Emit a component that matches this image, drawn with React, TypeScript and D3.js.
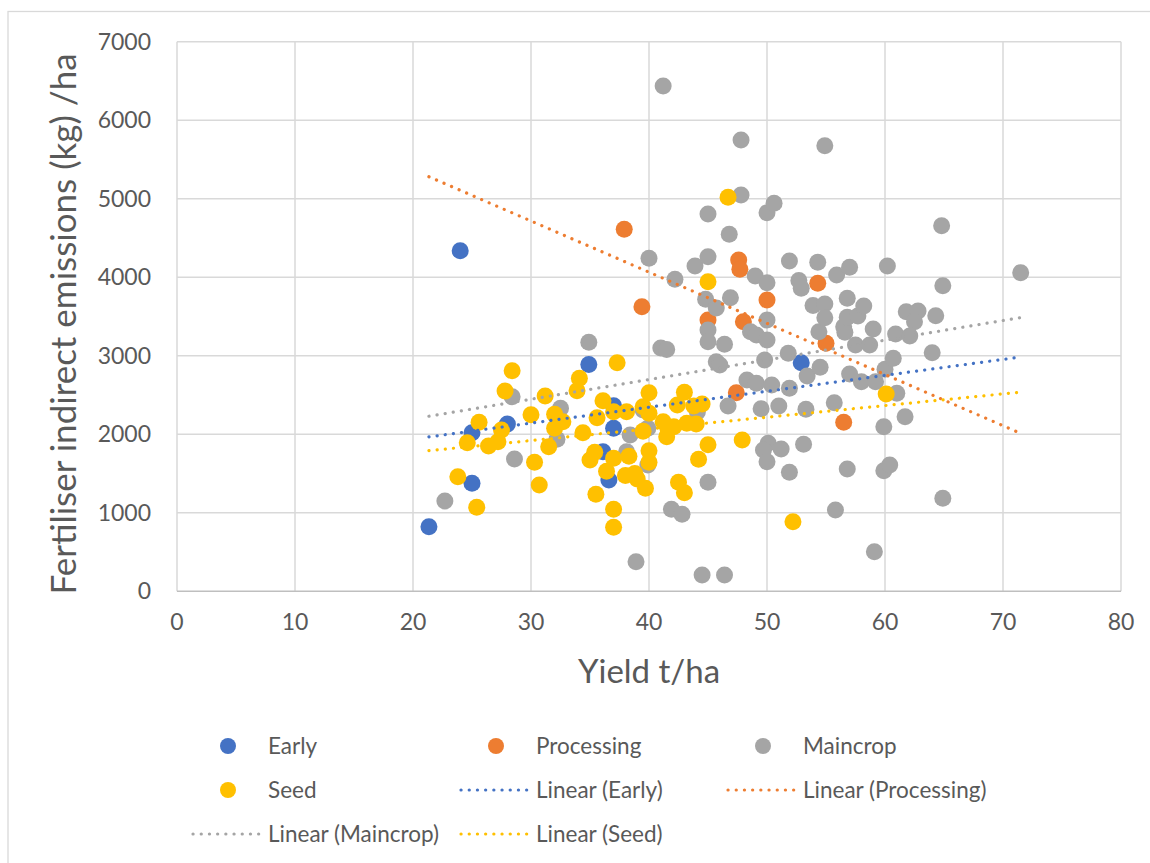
import React, { useEffect, useRef } from "react";
import * as d3 from "d3";

// yield t/ha, emissions kg/ha
const early: [number, number][] = [
  [21.35, 823], [24.0, 4339], [25.0, 2020], [25.0, 1376], [28.0, 2131],
  [34.9, 2890], [37.0, 2365], [37.0, 2077], [36.1, 1779], [36.6, 1418],
  [52.9, 2912],
];

const processing: [number, number][] = [
  [37.9, 4613], [39.4, 3626], [45.0, 3456], [47.4, 2530], [47.6, 4221],
  [47.7, 4102], [48.0, 3435], [50.0, 3711], [54.3, 3924], [55.0, 3160],
  [56.5, 2153],
];

const maincrop: [number, number][] = [
  [22.7, 1150], [28.4, 2479], [28.6, 1686], [32.5, 2331], [32.2, 1937],
  [34.9, 3172], [38.4, 1991], [38.1, 1779], [39.9, 2077], [39.9, 1609],
  [39.5, 2311], [38.9, 377], [40.0, 4242], [41.0, 3100], [41.5, 3080],
  [41.2, 6437], [41.9, 1045], [42.8, 981], [42.2, 3975], [43.9, 4144],
  [44.1, 2285], [44.5, 208], [44.8, 3720], [45.0, 4807], [45.0, 4263],
  [45.0, 3329], [45.0, 3180], [45.0, 1390], [45.7, 3610], [45.7, 2925],
  [46.0, 2883], [46.4, 3147], [46.4, 208], [46.7, 2361], [46.8, 4548],
  [46.9, 3740], [47.8, 5750], [47.8, 5049], [48.6, 3307], [49.1, 3265],
  [48.3, 2692], [49.1, 2650], [49.0, 4017], [49.5, 2325], [50.0, 4823],
  [50.6, 4943], [50.0, 3932], [50.0, 3456], [50.0, 3202], [49.8, 2947],
  [50.4, 2628], [50.1, 1885], [49.7, 1800], [50.0, 1651], [51.2, 1813],
  [51.0, 2361], [51.9, 4208], [51.8, 3032], [51.9, 2586], [51.9, 1516],
  [52.7, 3960], [52.9, 3860], [53.1, 1873], [53.3, 2319], [53.4, 2743],
  [53.9, 3640], [54.3, 4191], [54.4, 3307], [54.5, 2854], [54.9, 5677],
  [54.9, 3660], [54.9, 3486], [55.7, 2403], [55.8, 1036], [55.9, 4030],
  [56.5, 3370], [56.6, 3300], [56.8, 3733], [56.8, 3490], [56.8, 1558],
  [57.0, 4128], [57.0, 2768], [57.5, 3138], [57.7, 3507], [58.0, 2670],
  [58.2, 3635], [58.7, 3138], [59.0, 3342], [59.2, 2670], [59.1, 505],
  [59.9, 2097], [59.9, 1536], [60.4, 1609], [60.0, 2828], [60.2, 4144],
  [60.7, 2968], [60.9, 3278], [61.0, 2522], [61.7, 2224], [61.8, 3562],
  [62.8, 3571], [62.5, 3435], [62.1, 3252], [64.0, 3040], [64.3, 3511],
  [64.8, 4658], [64.9, 3893], [64.9, 1185], [71.5, 4059],
];

const seed: [number, number][] = [
  [23.8, 1460], [24.6, 1893], [25.4, 1070], [25.6, 2153], [26.4, 1851],
  [27.2, 1906], [27.5, 2055], [27.8, 2552], [28.4, 2811], [30.0, 2250],
  [30.3, 1643], [30.7, 1354], [31.2, 2488], [31.5, 1842], [32.0, 2255],
  [32.0, 2077], [32.7, 2161], [33.9, 2556], [34.1, 2714], [34.4, 2020],
  [35.0, 1673], [35.4, 1771], [35.5, 1236], [35.6, 2210], [36.1, 2428],
  [36.4, 1530], [37.0, 2288], [37.0, 1694], [37.0, 1045], [37.0, 815],
  [37.3, 2912], [38.0, 1475], [38.1, 2288], [38.3, 1720], [38.8, 1500],
  [39.0, 1430], [39.5, 2352], [39.5, 2040], [39.7, 1312], [40.0, 2530],
  [40.0, 2268], [40.0, 1790], [40.0, 1645], [41.2, 2161], [41.6, 2077],
  [41.5, 1970], [42.1, 2097], [42.4, 2373], [42.5, 1390], [43.0, 2535],
  [43.0, 1256], [43.2, 2140], [43.8, 2361], [44.0, 2131], [44.2, 1682],
  [44.5, 2386], [45.0, 1868], [45.0, 3944], [46.7, 5020], [47.9, 1928],
  [52.2, 887], [60.1, 2513],
];

const seriesNames = ["Early", "Processing", "Maincrop", "Seed"];
const seriesColors = ["#4472C4", "#ED7D31", "#A5A5A5", "#FFC000"];
const xTicks = [0, 10, 20, 30, 40, 50, 60, 70, 80];
const yTicks = [0, 1000, 2000, 3000, 4000, 5000, 6000, 7000];

const fit = (pts: [number, number][]) => {
  const mx = d3.mean(pts, (d) => d[0]) as number;
  const my = d3.mean(pts, (d) => d[1]) as number;
  let sxy = 0;
  let sxx = 0;
  pts.forEach(([x, y]) => {
    sxy += (x - mx) * (y - my);
    sxx += (x - mx) * (x - mx);
  });
  const b = sxy / sxx;
  return (x: number) => my + b * (x - mx);
};

const App = () => {
  const svgRef = useRef(null);
  const width = 1150;
  const height = 863;
  const font = "Lato, 'Open Sans', sans-serif";
  const textColor = "#595959";

  useEffect(() => {
    const svg = d3.select(svgRef.current);
    svg.selectAll("*").remove();

    const x = d3.scaleLinear().domain([0, 80]).range([177, 1121]);
    const y = d3.scaleLinear().domain([0, 7000]).range([591.3, 41.8]);

    svg
      .append("rect")
      .attr("x", 8)
      .attr("y", 11.5)
      .attr("width", width)
      .attr("height", height)
      .attr("fill", "white")
      .attr("stroke", "#d9d9d9")
      .attr("stroke-width", 1.3);

    // grid
    svg
      .append("g")
      .selectAll("line")
      .data(yTicks.slice(1))
      .enter()
      .append("line")
      .attr("x1", x(0))
      .attr("x2", x(80))
      .attr("y1", (d) => y(d))
      .attr("y2", (d) => y(d))
      .attr("stroke", "#d9d9d9")
      .attr("stroke-width", 1.5);

    svg
      .append("g")
      .selectAll("line")
      .data(xTicks)
      .enter()
      .append("line")
      .attr("x1", (d) => x(d))
      .attr("x2", (d) => x(d))
      .attr("y1", y(0))
      .attr("y2", y(7000))
      .attr("stroke", "#d9d9d9")
      .attr("stroke-width", 1.5);

    svg
      .append("line")
      .attr("x1", x(0))
      .attr("x2", x(80))
      .attr("y1", y(0))
      .attr("y2", y(0))
      .attr("stroke", "#bfbfbf")
      .attr("stroke-width", 1.5);

    // tick labels
    svg
      .append("g")
      .selectAll("text")
      .data(yTicks)
      .enter()
      .append("text")
      .attr("x", 151)
      .attr("y", (d) => y(d) + 8)
      .attr("text-anchor", "end")
      .style("font-family", font)
      .style("font-size", "23px")
      .attr("fill", textColor)
      .text((d) => d);

    svg
      .append("g")
      .selectAll("text")
      .data(xTicks)
      .enter()
      .append("text")
      .attr("x", (d) => x(d))
      .attr("y", 630)
      .attr("text-anchor", "middle")
      .style("font-family", font)
      .style("font-size", "23px")
      .attr("fill", textColor)
      .text((d) => d);

    // axis titles
    svg
      .append("text")
      .attr("x", 649)
      .attr("y", 683)
      .attr("text-anchor", "middle")
      .style("font-family", font)
      .style("font-size", "33px")
      .attr("fill", textColor)
      .text("Yield t/ha");

    svg
      .append("text")
      .attr("transform", "translate(76,324) rotate(-90)")
      .attr("text-anchor", "middle")
      .style("font-family", font)
      .style("font-size", "35px")
      .attr("fill", textColor)
      .text("Fertiliser indirect emissions (kg) /ha");

    const allData = [early, processing, maincrop, seed];
    const xMin = d3.min(allData.flat(), (d) => d[0]) as number;
    const xMax = d3.max(allData.flat(), (d) => d[0]) as number;

    // points
    allData.forEach((pts, i) => {
      svg
        .append("g")
        .selectAll("circle")
        .data(pts)
        .enter()
        .append("circle")
        .attr("cx", (d) => x(d[0]))
        .attr("cy", (d) => y(d[1]))
        .attr("r", 8.5)
        .attr("fill", seriesColors[i]);
    });

    // linear trendlines
    allData.forEach((pts, i) => {
      const f = fit(pts);
      svg
        .append("line")
        .attr("x1", x(xMin))
        .attr("y1", y(f(xMin)))
        .attr("x2", x(xMax))
        .attr("y2", y(f(xMax)))
        .attr("stroke", seriesColors[i])
        .attr("stroke-width", 3.2)
        .attr("stroke-linecap", "round")
        .attr("stroke-dasharray", "0.1 8.1");
    });

    // legend
    const colText = [268, 536, 803];
    const rowY = [746, 790, 834];
    const entries = [
      ...seriesNames.map((n, i) => ({ label: n, color: seriesColors[i], line: false })),
      ...seriesNames.map((n, i) => ({ label: `Linear (${n})`, color: seriesColors[i], line: true })),
    ];
    entries.forEach((e, i) => {
      const cx = colText[i % 3];
      const cy = rowY[Math.floor(i / 3)];
      if (e.line) {
        svg
          .append("line")
          .attr("x1", cx - 75)
          .attr("x2", cx - 5)
          .attr("y1", cy)
          .attr("y2", cy)
          .attr("stroke", e.color)
          .attr("stroke-width", 3.2)
          .attr("stroke-linecap", "round")
          .attr("stroke-dasharray", "0.1 8.1");
      } else {
        svg
          .append("circle")
          .attr("cx", cx - 40)
          .attr("cy", cy)
          .attr("r", 8)
          .attr("fill", e.color);
      }
      svg
        .append("text")
        .attr("x", cx)
        .attr("y", cy + 8)
        .style("font-family", font)
        .style("font-size", "22.5px")
        .attr("fill", textColor)
        .text(e.label);
    });
  }, []);

  return (
    <svg
      ref={svgRef}
      width={width}
      height={height}
      style={{ position: "absolute", left: 0, top: 0 }}
    />
  );
};

export default App;
